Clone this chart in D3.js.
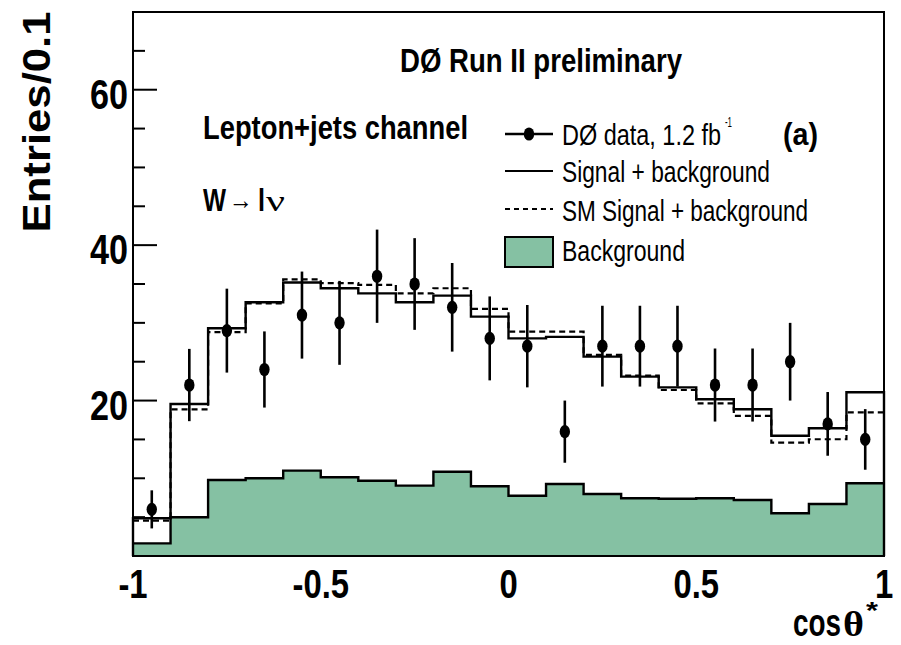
<!DOCTYPE html>
<html>
<head>
<meta charset="utf-8">
<script src="https://cdn.jsdelivr.net/npm/d3@7"></script>
<style>
  body { margin: 0; background: #fff; }
  svg { display: block; }
</style>
</head>
<body>
<svg id="chart" width="901" height="645"></svg>
<script>
// bin edges of cos(theta*) histogram
var edges = [-1, -0.9, -0.8, -0.7, -0.6, -0.5, -0.4, -0.3, -0.2, -0.1, 0,
  0.1, 0.2, 0.3, 0.4, 0.5, 0.6, 0.7, 0.8, 0.9, 1];
// D0 data, entries per bin, with error bars
var dataCounts = [6, 22, 29, 24, 31, 30, 36, 35, 32, 28, 27, 16, 27, 27, 27, 22, 22, 25, 17, 15];
var dataErrors = [2.45, 4.65, 5.4, 4.9, 5.6, 5.4, 6.0, 5.9, 5.7, 5.4, 5.3, 4.0, 5.2, 5.2, 5.2, 4.7, 4.7, 5.0, 4.1, 3.9];
// signal + background (fit)
var sigBkg = [4.85, 19.56, 29.3, 32.65, 35.2, 34.45, 33.8, 32.65, 33.5, 30.8,
  28.0, 28.2, 25.65, 23.08, 21.7, 20.17, 18.88, 15.48, 16.43, 21.07];
// SM signal + background
var smSigBkg = [4.54, 18.88, 28.8, 32.5, 35.6, 35.1, 34.9, 33.8, 34.45, 31.8,
  28.87, 28.87, 25.87, 23.2, 21.36, 19.65, 18.02, 14.58, 15.02, 18.49];
// background only
var bkg = [1.63, 4.98, 9.78, 10.0, 10.98, 10.13, 9.69, 9.05, 10.85, 8.97,
  7.76, 9.27, 7.98, 7.43, 7.37, 7.43, 7.2, 5.5, 6.69, 9.36];

var xTicks = [-1, -0.5, 0, 0.5, 1];
var yMajor = [20, 40, 60];
var yMinor = [5, 10, 15, 25, 30, 35, 45, 50, 55, 65];

var green = "#85c1a3";
var sans = "'Liberation Sans', Arial, Helvetica, sans-serif";
var serif = "'Liberation Serif', 'Times New Roman', serif";

var svg = d3.select("#chart");
var x = d3.scaleLinear().domain([-1, 1]).range([133, 884]);
var y = d3.scaleLinear().domain([0, 70]).range([556, 12]);

function steps(vals) {
  var pts = [];
  vals.forEach(function (v, i) {
    pts.push([edges[i], v]);
    pts.push([edges[i + 1], v]);
  });
  return pts;
}

// squeeze text horizontally by factor k
function squeeze(sel, k) {
  sel.each(function () {
    var L = this.getComputedTextLength();
    d3.select(this).attr("textLength", L * k).attr("lengthAdjust", "spacingAndGlyphs");
  });
}
function fitTo(sel, w) {
  sel.attr("textLength", w).attr("lengthAdjust", "spacingAndGlyphs");
}
function label(px, py, txt, size, bold, w, fam) {
  var t = svg.append("text")
    .attr("x", px).attr("y", py)
    .attr("font-family", fam || sans)
    .attr("font-weight", bold ? "bold" : "normal")
    .attr("font-size", size)
    .text(txt);
  if (w) t.call(fitTo, w);
  return t;
}

var line = d3.line()
  .x(function (d) { return x(d[0]); })
  .y(function (d) { return y(d[1]); });
var area = d3.area()
  .x(function (d) { return x(d[0]); })
  .y0(y(0))
  .y1(function (d) { return y(d[1]); });

// background fill
svg.append("path")
  .attr("d", area(steps(bkg)))
  .attr("fill", green);
svg.append("path")
  .attr("d", line(steps(bkg)))
  .attr("fill", "none")
  .attr("stroke", "#000")
  .attr("stroke-width", 2.4);

// SM signal + background (dashed)
svg.append("path")
  .attr("d", line(steps(smSigBkg)))
  .attr("fill", "none")
  .attr("stroke", "#000")
  .attr("stroke-width", 2.2)
  .attr("stroke-dasharray", "6,4");

// signal + background
svg.append("path")
  .attr("d", line([[-1, 0]].concat(steps(sigBkg)).concat([[1, 0]])))
  .attr("fill", "none")
  .attr("stroke", "#000")
  .attr("stroke-width", 2.4);

// data points
var pts = svg.append("g").selectAll("g")
  .data(dataCounts)
  .enter()
  .append("g");
pts.append("line")
  .attr("x1", function (d, i) { return x((edges[i] + edges[i + 1]) / 2); })
  .attr("x2", function (d, i) { return x((edges[i] + edges[i + 1]) / 2); })
  .attr("y1", function (d, i) { return y(d - dataErrors[i]); })
  .attr("y2", function (d, i) { return y(d + dataErrors[i]); })
  .attr("stroke", "#000")
  .attr("stroke-width", 2.6);
pts.append("ellipse")
  .attr("cx", function (d, i) { return x((edges[i] + edges[i + 1]) / 2); })
  .attr("cy", function (d) { return y(d); })
  .attr("rx", 5.2)
  .attr("ry", 6.6)
  .attr("fill", "#000");

// frame
svg.append("rect")
  .attr("x", x(-1)).attr("y", y(70))
  .attr("width", x(1) - x(-1)).attr("height", y(0) - y(70))
  .attr("fill", "none")
  .attr("stroke", "#000")
  .attr("stroke-width", 2);

// y axis ticks
svg.append("g").selectAll("line")
  .data(yMajor)
  .enter()
  .append("line")
  .attr("x1", x(-1)).attr("x2", x(-1) + 24)
  .attr("y1", function (d) { return y(d); })
  .attr("y2", function (d) { return y(d); })
  .attr("stroke", "#000").attr("stroke-width", 2);
svg.append("g").selectAll("line")
  .data(yMinor)
  .enter()
  .append("line")
  .attr("x1", x(-1)).attr("x2", x(-1) + 12)
  .attr("y1", function (d) { return y(d); })
  .attr("y2", function (d) { return y(d); })
  .attr("stroke", "#000").attr("stroke-width", 2);

// y tick labels
svg.append("g").selectAll("text")
  .data(yMajor)
  .enter()
  .append("text")
  .attr("x", 128)
  .attr("y", function (d) { return y(d) + 19; })
  .attr("text-anchor", "end")
  .attr("font-family", sans)
  .attr("font-weight", "bold")
  .attr("font-size", 42)
  .text(function (d) { return d; })
  .call(fitTo, 38);

// x tick labels
svg.append("g").selectAll("text")
  .data(xTicks)
  .enter()
  .append("text")
  .attr("x", function (d) { return x(d); })
  .attr("y", 598)
  .attr("text-anchor", "middle")
  .attr("font-family", sans)
  .attr("font-weight", "bold")
  .attr("font-size", 40)
  .text(function (d) { return d; })
  .call(squeeze, 0.82);

// axis titles
svg.append("text")
  .attr("transform", "translate(50,122) rotate(-90)")
  .attr("text-anchor", "middle")
  .attr("font-family", sans)
  .attr("font-weight", "bold")
  .attr("font-size", 39)
  .text("Entries/0.1")
  .call(fitTo, 221);

label(793, 636, "cos", 38, true, 48);
label(843, 636, "θ", 36, true, 21, serif);
label(866, 619, "*", 24, true, 12);

// labels in the pad
label(400, 72, "DØ Run II preliminary", 33, true, 282);
label(203, 139, "Lepton+jets channel", 34, true, 265);
label(203, 211, "W", 32, true, 23);
label(229, 209, "→", 26, false, 24, serif);
label(258, 211, "l", 32, true, 7);
label(266, 211, "ν", 30, false, 19, serif);

// legend
var lg = svg.append("g");
lg.append("line")
  .attr("x1", 505).attr("x2", 553).attr("y1", 134).attr("y2", 134)
  .attr("stroke", "#000").attr("stroke-width", 2.4);
lg.append("ellipse")
  .attr("cx", 529).attr("cy", 134).attr("rx", 5.2).attr("ry", 6.6)
  .attr("fill", "#000");
lg.append("line")
  .attr("x1", 505).attr("x2", 553).attr("y1", 171).attr("y2", 171)
  .attr("stroke", "#000").attr("stroke-width", 2.2);
lg.append("line")
  .attr("x1", 505).attr("x2", 553).attr("y1", 209).attr("y2", 209)
  .attr("stroke", "#000").attr("stroke-width", 2)
  .attr("stroke-dasharray", "5,4");
lg.append("rect")
  .attr("x", 505).attr("y", 237).attr("width", 48).attr("height", 30)
  .attr("fill", green)
  .attr("stroke", "#000").attr("stroke-width", 2);

label(562, 145, "DØ data, 1.2 fb", 30, false, 159);
label(725, 127, "-1", 14, false, 7);
label(783, 145, "(a)", 31, true, 35);
label(562, 182, "Signal + background", 30, false, 208);
label(562, 221, "SM Signal + background", 30, false, 246);
label(562, 261, "Background", 30, false, 123);
</script>
</body>
</html>
